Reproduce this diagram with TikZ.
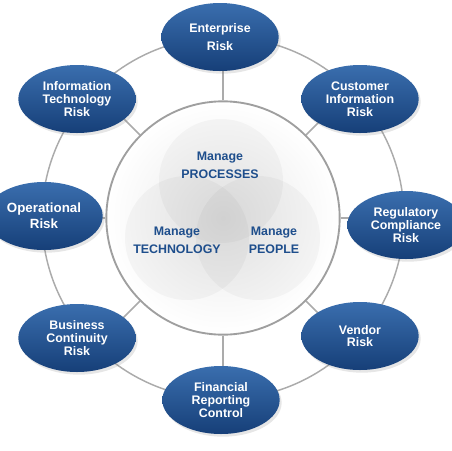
\documentclass[tikz,border=0pt]{standalone}
\usepackage{fontspec}
\setmainfont{Liberation Sans}
\usetikzlibrary{shapes.geometric,shadows}
\definecolor{riskblue}{HTML}{1F5192}
\definecolor{riskdark}{HTML}{163F78}
\definecolor{risklight}{HTML}{3A6EAE}
\definecolor{managetext}{HTML}{1E4E8C}
\definecolor{ringgray}{HTML}{ABABAB}

\begin{document}
\begin{tikzpicture}[x=0.75pt,y=-0.75pt,
	risk/.style={ellipse, minimum width=88pt, minimum height=51pt, inner sep=0pt,
		top color=risklight, middle color=riskblue, bottom color=riskdark, text=white,
		font=\bfseries\fontsize{9.3}{9.6}\selectfont, align=center,
		drop shadow={opacity=0.2, shadow xshift=1.5pt, shadow yshift=-2pt}},
	manage/.style={text=managetext, font=\bfseries\fontsize{9.3}{13.5}\selectfont, align=center},
	venn/.style={circle, minimum size=93pt, fill=black, fill opacity=0.03},
	spoke/.style={draw=ringgray, line width=1.3pt}]
	\useasboundingbox (0,0) rectangle (451,451);
	% ring, hub and spokes
	\node[circle, draw=ringgray, line width=1.1pt, minimum size=271.5pt] (ring) at (223,218) {};
	\node[circle, draw=gray!75, line width=1.4pt, minimum size=175pt, inner color=gray!18, outer color=white] (hub) at (223,218) {};
	\foreach \a in {0,45,...,315}
		\draw[spoke] (hub.\a) -- (ring.\a);
	\node[venn] (vproc) at (221,181) {};
	\node[venn] (vtech) at (187,238) {};
	\node[venn] (vpeop) at (258,238) {};
	\node[manage] (processes) at (220,165) {Manage\\PROCESSES};
	\node[manage] (technology) at (177,240) {Manage\\TECHNOLOGY};
	\node[manage] (people) at (274,240) {Manage\\PEOPLE};
	% risk ellipses
	\node[risk] (enterprise) at (220,37) {Enterprise\\[4pt]Risk};
	\node[risk] (customer) at (360,99) {Customer\\Information\\Risk};
	\node[risk] (regulatory) at (406,225) {Regulatory\\Compliance\\Risk};
	\node[risk] (vendor) at (360,336) {Vendor\\Risk};
	\node[risk] (financial) at (221,400) {Financial\\Reporting\\Control};
	\node[risk] (continuity) at (77,338) {Business\\Continuity\\Risk};
	\node[risk, font=\bfseries\fontsize{10}{12}\selectfont] (operational) at (44,216) {Operational\\Risk};
	\node[risk] (infotech) at (77,99) {Information\\Technology\\Risk};
\end{tikzpicture}
\end{document}
